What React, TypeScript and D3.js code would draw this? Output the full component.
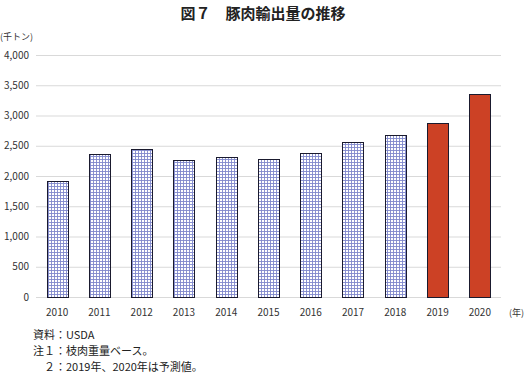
import React, { useEffect, useRef } from "react";
import * as d3 from "d3";

const years = ["2010", "2011", "2012", "2013", "2014", "2015", "2016", "2017", "2018", "2019", "2020"];
const exports = [1915, 2356, 2440, 2265, 2310, 2275, 2375, 2560, 2670, 2875, 3350];
const forecastYears = ["2019", "2020"];
const yTicks = [0, 500, 1000, 1500, 2000, 2500, 3000, 3500, 4000];
const notes = ["資料：USDA", "注１：枝肉重量ベース。", "　２：2019年、2020年は予測値。"];

const width = 526;
const height = 374;
const font = "'Noto Sans CJK JP', 'Noto Sans', sans-serif";

const App = () => {
  const svgRef = useRef<SVGSVGElement>(null);

  useEffect(() => {
    const svg = d3.select(svgRef.current);
    svg.selectAll("*").remove();

    const marginLeft = 36;
    const marginRight = 25;
    const top = 55;
    const bottom = 297;

    const x = d3.scaleBand().domain(years).range([marginLeft, width - marginRight]).paddingInner(0.5).paddingOuter(0.25);
    const y = d3.scaleLinear().domain([0, 4000]).range([bottom, top]);

    // hatch pattern for actual values
    const defs = svg.append("defs");
    const pat = defs.append("pattern")
      .attr("id", "grid")
      .attr("patternUnits", "userSpaceOnUse")
      .attr("width", 3)
      .attr("height", 3);
    pat.append("rect").attr("width", 3).attr("height", 3).attr("fill", "#ffffff");
    pat.append("path")
      .attr("d", "M0,0.5H3M0.5,0V3")
      .attr("stroke", "#8088cc")
      .attr("stroke-width", 0.9);

    // title
    svg.append("text")
      .attr("x", 263)
      .attr("y", 19)
      .attr("text-anchor", "middle")
      .attr("font-size", 15)
      .attr("font-weight", "bold")
      .attr("fill", "#222")
      .text("図７　豚肉輸出量の推移");

    svg.append("text")
      .attr("x", 0)
      .attr("y", 40)
      .attr("font-size", 9)
      .attr("fill", "#333")
      .text("(千トン)");

    // gridlines
    svg.append("g")
      .selectAll("line")
      .data(yTicks)
      .join("line")
      .attr("x1", marginLeft)
      .attr("x2", width - marginRight)
      .attr("y1", d => y(d) + 0.5)
      .attr("y2", d => y(d) + 0.5)
      .attr("stroke", "#d9d9d9");

    svg.append("g")
      .selectAll("text")
      .data(yTicks)
      .join("text")
      .attr("x", 29)
      .attr("y", d => y(d))
      .attr("dy", "0.35em")
      .attr("text-anchor", "end")
      .attr("font-size", 10)
      .attr("fill", "#333")
      .text(d => d3.format(",")(d));

    // bars
    svg.append("g")
      .selectAll("rect")
      .data(years)
      .join("rect")
      .attr("x", d => Math.round(x(d)!) + 0.5)
      .attr("y", (d, i) => Math.round(y(exports[i])) + 0.5)
      .attr("width", Math.round(x.bandwidth()))
      .attr("height", (d, i) => Math.round(bottom - y(exports[i])))
      .attr("fill", d => forecastYears.includes(d) ? "#cc4125" : "url(#grid)")
      .attr("stroke", "#1a1a2e")
      .attr("stroke-width", 1);

    // x labels
    svg.append("g")
      .selectAll("text")
      .data(years)
      .join("text")
      .attr("x", d => x(d)! + x.bandwidth() / 2)
      .attr("y", 316)
      .attr("text-anchor", "middle")
      .attr("font-size", 10)
      .attr("fill", "#333")
      .text(d => d);

    svg.append("text")
      .attr("x", 509)
      .attr("y", 316)
      .attr("font-size", 9)
      .attr("fill", "#333")
      .text("(年)");

    svg.append("g")
      .selectAll("text")
      .data(notes)
      .join("text")
      .attr("x", 33)
      .attr("y", (d, i) => 339 + i * 16)
      .attr("font-size", 11)
      .attr("fill", "#222")
      .text(d => d);
  }, []);

  return (
    <svg
      ref={svgRef}
      width={width}
      height={height}
      style={{ position: "absolute", left: 0, top: 0, background: "#fff", fontFamily: font }}
    />
  );
};

export default App;
